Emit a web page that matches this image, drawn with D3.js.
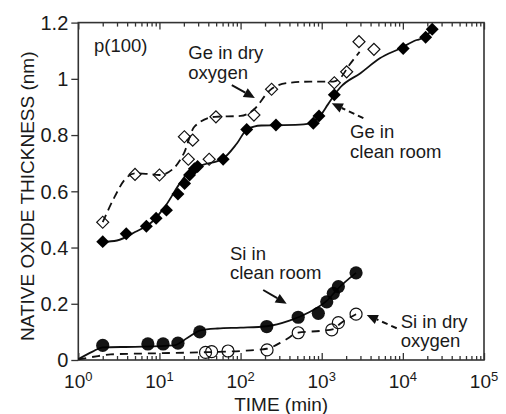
<!DOCTYPE html>
<html>
<head>
<meta charset="utf-8">
<script src="https://cdn.jsdelivr.net/npm/d3@7"></script>
<style>
  html, body { margin: 0; padding: 0; background: #fff; }
  text { font-family: "Liberation Sans", Arial, sans-serif; fill: #1a1a1a; }
</style>
</head>
<body>
<div id="chart"></div>
<script>
// --- Data ---
const geCleanTime  = [2, 3.9, 6.9, 9.1, 12.2, 16.9, 20.4, 23.5, 27, 29.5, 61, 119, 273, 788, 925, 1430, 10100, 19100, 23000];
const geCleanThick = [0.421, 0.449, 0.476, 0.504, 0.533, 0.59, 0.628, 0.658, 0.68, 0.688, 0.714, 0.82, 0.836, 0.842, 0.868, 0.943, 1.108, 1.148, 1.176];

const geDryTime  = [2, 5, 10, 20.3, 25.7, 22.7, 41, 49.7, 146, 241, 1430, 2030, 2880, 4400];
const geDryThick = [0.49, 0.66, 0.658, 0.794, 0.782, 0.714, 0.714, 0.865, 0.871, 0.963, 0.986, 1.025, 1.132, 1.105];

const siCleanTime  = [2, 7.2, 11.1, 16.9, 31.4, 210, 513, 908, 1153, 1390, 1603, 2650];
const siCleanThick = [0.052, 0.057, 0.057, 0.06, 0.10, 0.119, 0.152, 0.166, 0.207, 0.237, 0.261, 0.31];

const siDryTime  = [37, 44, 70, 212, 513, 1328, 1603, 2650];
const siDryThick = [0.027, 0.03, 0.032, 0.036, 0.097, 0.107, 0.133, 0.163];

// fitted guide curves (smooth lines drawn through the data in the figure)
const geCleanFitTime  = [2, 3, 5, 8, 12, 18, 25, 35, 60, 90, 120, 180, 300, 600, 900, 1200, 1450, 1700, 3000, 5200, 9200, 14800, 18000, 23000];
const geCleanFitThick = [0.42, 0.425, 0.455, 0.49, 0.55, 0.63, 0.68, 0.695, 0.715, 0.77, 0.82, 0.834, 0.835, 0.838, 0.86, 0.91, 0.945, 0.97, 1.02, 1.073, 1.108, 1.138, 1.146, 1.175];

const geDryFitTime  = [2, 2.8, 3.7, 5, 7, 10, 15, 20, 27, 48, 100, 144, 231, 371, 718, 1390, 1683, 2200, 2930];
const geDryFitThick = [0.49, 0.58, 0.64, 0.664, 0.662, 0.658, 0.682, 0.735, 0.83, 0.865, 0.868, 0.889, 0.96, 0.985, 0.99, 0.99, 1.002, 1.05, 1.096];

const siCleanFitTime  = [1, 1.5, 2, 5, 15, 22, 32, 52, 100, 210, 400, 700, 1150, 1600, 2650];
const siCleanFitThick = [0.003, 0.03, 0.045, 0.047, 0.052, 0.078, 0.105, 0.112, 0.115, 0.12, 0.14, 0.17, 0.21, 0.255, 0.31];

const siDryFitTime  = [1, 1.75, 2.5, 10, 40, 100, 210, 350, 513, 1000, 1400, 1700, 2650];
const siDryFitThick = [0.002, 0.014, 0.02, 0.024, 0.028, 0.032, 0.04, 0.07, 0.097, 0.104, 0.11, 0.13, 0.163];

// axis ticks
const xTickValues = [1, 10, 100, 1000, 10000, 100000];
const xTickExponents = ["0", "1", "2", "3", "4", "5"];
const yTickValues = [0, 0.2, 0.4, 0.6, 0.8, 1, 1.2];
const yTickLabels = ["0", "0.2", "0.4", "0.6", "0.8", "1", "1.2"];

// --- Chart ---
(function(){
    const W = 506, H = 414;
    const plot = { left: 78.3, right: 484, top: 22.6, bottom: 360 };

    const svg = d3.select("#chart").append("svg")
        .attr("width", W)
        .attr("height", H);

    const x = d3.scaleLog().domain([1, 1e5]).range([plot.left, plot.right]);
    const y = d3.scaleLinear().domain([0, 1.2]).range([plot.bottom, plot.top]);

    const minorTicks = [];
    for (let e = 0; e < 5; e++) {
        for (let m = 2; m <= 9; m++) minorTicks.push(m * Math.pow(10, e));
    }

    const axisColor = "#333";

    // --- Axes ---
    function styleAxis(g) {
        g.select(".domain").remove();
        g.selectAll(".tick line").attr("stroke", axisColor).attr("stroke-width", 1.3);
        g.selectAll(".tick text").remove();
    }

    // bottom, ticks pointing in
    svg.append("g")
        .attr("transform", `translate(0,${plot.bottom})`)
        .call(d3.axisBottom(x).tickValues(minorTicks).tickSize(-4).tickFormat(""))
        .call(styleAxis);
    svg.append("g")
        .attr("transform", `translate(0,${plot.bottom})`)
        .call(d3.axisBottom(x).tickValues(xTickValues).tickSize(-7).tickFormat(""))
        .call(styleAxis);

    // top, ticks pointing in
    svg.append("g")
        .attr("transform", `translate(0,${plot.top})`)
        .call(d3.axisTop(x).tickValues(minorTicks).tickSize(-4).tickFormat(""))
        .call(styleAxis);
    svg.append("g")
        .attr("transform", `translate(0,${plot.top})`)
        .call(d3.axisTop(x).tickValues(xTickValues).tickSize(-7).tickFormat(""))
        .call(styleAxis);

    // left, ticks pointing out
    svg.append("g")
        .attr("transform", `translate(${plot.left},0)`)
        .call(d3.axisLeft(y).tickValues(yTickValues).tickSize(7).tickFormat(""))
        .call(styleAxis);

    // frame
    svg.append("rect")
        .attr("x", plot.left)
        .attr("y", plot.top)
        .attr("width", plot.right - plot.left)
        .attr("height", plot.bottom - plot.top)
        .attr("fill", "none")
        .attr("stroke", axisColor)
        .attr("stroke-width", 1.6);

    // tick labels
    svg.append("g").selectAll("text")
        .data(yTickValues)
        .join("text")
        .attr("x", plot.left - 10)
        .attr("y", d => y(d))
        .attr("dy", "0.36em")
        .attr("text-anchor", "end")
        .style("font-size", "20px")
        .text((d, i) => yTickLabels[i]);

    const xl = svg.append("g").selectAll("text")
        .data(xTickValues)
        .join("text")
        .attr("x", d => x(d))
        .attr("y", 388)
        .attr("text-anchor", "middle")
        .style("font-size", "19px");
    xl.append("tspan").text("10");
    xl.append("tspan")
        .attr("dy", -7)
        .style("font-size", "13px")
        .text((d, i) => xTickExponents[i]);

    // axis titles
    svg.append("text")
        .attr("x", (plot.left + plot.right) / 2)
        .attr("y", 411)
        .attr("text-anchor", "middle")
        .style("font-size", "19px")
        .text("TIME (min)");

    svg.append("text")
        .attr("transform", `translate(34,${(plot.top + plot.bottom) / 2 + 5}) rotate(-90)`)
        .attr("text-anchor", "middle")
        .style("font-size", "19px")
        .text("NATIVE OXIDE THICKNESS (nm)");

    // --- Curves ---
    const line = d3.line()
        .x(d => x(d[0]))
        .y(d => y(d[1]))
        .curve(d3.curveMonotoneX);

    const zip = (a, b) => a.map((v, i) => [v, b[i]]);

    const curves = [
        { pts: zip(geCleanFitTime, geCleanFitThick), dash: null },
        { pts: zip(geDryFitTime, geDryFitThick), dash: "8,5" },
        { pts: zip(siCleanFitTime, siCleanFitThick), dash: null },
        { pts: zip(siDryFitTime, siDryFitThick), dash: "8,6" }
    ];

    svg.append("g").selectAll("path")
        .data(curves)
        .join("path")
        .attr("d", d => line(d.pts))
        .attr("fill", "none")
        .attr("stroke", "#111")
        .attr("stroke-width", 1.8)
        .attr("stroke-dasharray", d => d.dash);

    // --- Markers ---
    const diamond = d3.symbol().type(d3.symbolSquare);

    svg.append("g").selectAll("path")
        .data(zip(geDryTime, geDryThick))
        .join("path")
        .attr("d", diamond.size(72)())
        .attr("transform", d => `translate(${x(d[0])},${y(d[1])}) rotate(45)`)
        .attr("fill", "none")
        .attr("stroke", "#111")
        .attr("stroke-width", 1.2);

    svg.append("g").selectAll("path")
        .data(zip(geCleanTime, geCleanThick))
        .join("path")
        .attr("d", diamond.size(84)())
        .attr("transform", d => `translate(${x(d[0])},${y(d[1])}) rotate(45)`)
        .attr("fill", "#000");

    svg.append("g").selectAll("circle")
        .data(zip(siCleanTime, siCleanThick))
        .join("circle")
        .attr("cx", d => x(d[0]))
        .attr("cy", d => y(d[1]))
        .attr("r", 6.6)
        .attr("fill", "#000")
        .attr("fill-opacity", 0.92);

    svg.append("g").selectAll("circle")
        .data(zip(siDryTime, siDryThick))
        .join("circle")
        .attr("cx", d => x(d[0]))
        .attr("cy", d => y(d[1]))
        .attr("r", 6)
        .attr("fill", "none")
        .attr("stroke", "#111")
        .attr("stroke-width", 1.2);

    // --- Annotations ---
    const labels = [
        { lines: ["p(100)"], t: 1.56, v: 1.096 },
        { lines: ["Ge in dry", "oxygen"], t: 22.7, v: 1.069 },
        { lines: ["Ge in", "clean room"], t: 2233, v: 0.788 },
        { lines: ["Si in", "clean room"], t: 74, v: 0.356 },
        { lines: ["Si in dry", "oxygen"], t: 9420, v: 0.115 }
    ];

    labels.forEach(l => {
        const t = svg.append("text")
            .attr("x", x(l.t))
            .attr("y", y(l.v))
            .style("font-size", "18.5px");
        l.lines.forEach((s, i) => {
            t.append("tspan")
                .attr("x", x(l.t))
                .attr("dy", i === 0 ? 0 : 19.5)
                .text(s);
        });
    });

    const arrows = [
        { from: [78, 0.978], to: [150, 0.932], dash: null },
        { from: [3260, 0.86], to: [1330, 0.913], dash: "6,4" },
        { from: [190, 0.249], to: [370, 0.200], dash: null },
        { from: [8400, 0.113], to: [3590, 0.160], dash: "6,4" }
    ];

    arrows.forEach(a => {
        const x0 = x(a.from[0]), y0 = y(a.from[1]);
        const x1 = x(a.to[0]), y1 = y(a.to[1]);
        const ang = Math.atan2(y1 - y0, x1 - x0);
        const hl = 11, hw = 5;
        const bx = x1 - hl * Math.cos(ang), by = y1 - hl * Math.sin(ang);
        svg.append("line")
            .attr("x1", x0).attr("y1", y0)
            .attr("x2", bx).attr("y2", by)
            .attr("stroke", "#111")
            .attr("stroke-width", 2)
            .attr("stroke-dasharray", a.dash);
        svg.append("path")
            .attr("d", `M${x1},${y1}L${bx + hw * Math.sin(ang)},${by - hw * Math.cos(ang)}L${bx - hw * Math.sin(ang)},${by + hw * Math.cos(ang)}Z`)
            .attr("fill", "#111");
    });
})();
</script>
</body>
</html>
